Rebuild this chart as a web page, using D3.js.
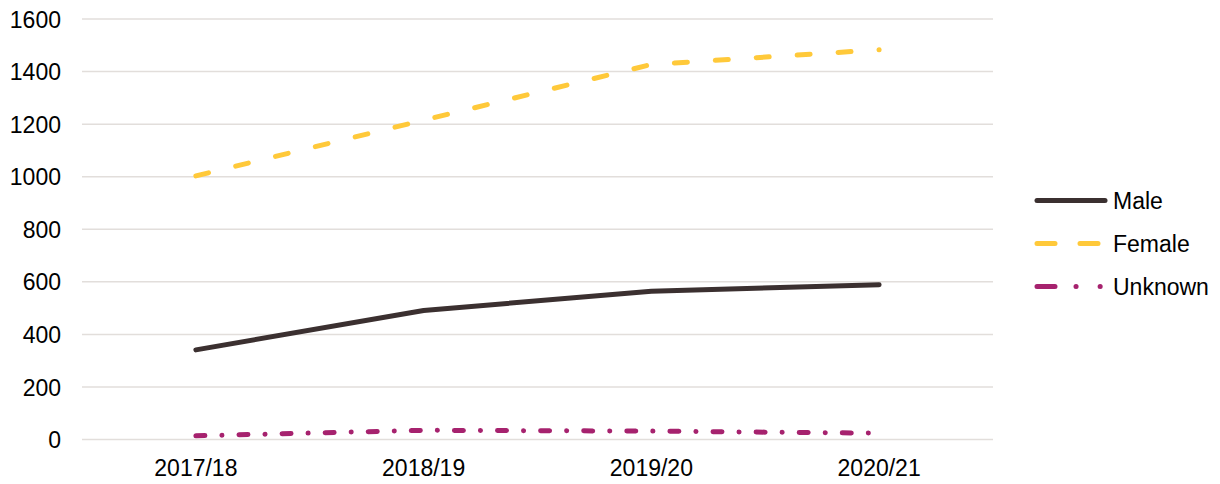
<!DOCTYPE html>
<html>
<head>
<meta charset="utf-8">
<script src="https://cdn.jsdelivr.net/npm/d3@7"></script>
<style>
  body { margin: 0; background: #fff; }
  #chart { width: 1220px; height: 484px; }
  text { font-family: Arial, "Liberation Sans", sans-serif; fill: #000; }
</style>
</head>
<body>
<div id="chart"></div>
<script>
// データ
const categories = ['2017/18', '2018/19', '2019/20', '2020/21'];
const maleValues = [341, 491, 564, 589];
const femaleValues = [1003, 1215, 1427, 1483];
const unknownValues = [14, 35, 32, 24];
const yTicks = [0, 200, 400, 600, 800, 1000, 1200, 1400, 1600];

const seriesList = [
  { name: 'Male', values: maleValues, color: '#3b3030', dash: null, legendDash: null },
  { name: 'Female', values: femaleValues, color: '#ffc93a', dash: '13 28', legendDash: '18 25' },
  { name: 'Unknown', values: unknownValues, color: '#a6226e', dash: '9 17 0.1 17', legendDash: '18 21 0.1 24 0.1 20' }
];

const width = 1220, height = 484;
const plot = { left: 82, right: 993, top: 19, bottom: 439.5 };
const fontSize = '23px';

const svg = d3.select('#chart').append('svg')
  .attr('width', width)
  .attr('height', height);

const x = d3.scaleBand()
  .domain(categories)
  .range([plot.left, plot.right]);

const y = d3.scaleLinear()
  .domain([0, 1600])
  .range([plot.bottom, plot.top]);

// グリッド線
svg.append('g')
  .selectAll('line')
  .data(yTicks)
  .enter().append('line')
  .attr('x1', plot.left)
  .attr('x2', plot.right)
  .attr('y1', d => y(d))
  .attr('y2', d => y(d))
  .attr('stroke', '#e2dedb')
  .attr('stroke-width', 1.5);

// Y軸
const yAxis = svg.append('g')
  .attr('transform', `translate(${plot.left}, 0)`)
  .call(d3.axisLeft(y).tickValues(yTicks).tickFormat(d3.format('d')).tickSize(0).tickPadding(21));
yAxis.select('.domain').remove();
yAxis.selectAll('text')
  .style('font-size', fontSize)
  .attr('dy', '0.35em');

// X軸
const xAxis = svg.append('g')
  .attr('transform', `translate(0, ${plot.bottom})`)
  .call(d3.axisBottom(x).tickSize(0).tickPadding(20));
xAxis.select('.domain').remove();
xAxis.selectAll('text')
  .style('font-size', fontSize);

// 折れ線
const line = d3.line()
  .x((d, i) => x(categories[i]) + x.bandwidth() / 2)
  .y(d => y(d));

seriesList.forEach(s => {
  svg.append('path')
    .datum(s.values)
    .attr('d', line)
    .attr('fill', 'none')
    .attr('stroke', s.color)
    .attr('stroke-width', 5)
    .attr('stroke-linecap', 'round')
    .attr('stroke-linejoin', 'round')
    .attr('stroke-dasharray', s.dash);
});

// 凡例
const legend = svg.append('g');
seriesList.forEach((s, i) => {
  const ly = 200.5 + i * 43;
  legend.append('line')
    .attr('x1', 1037)
    .attr('x2', 1105)
    .attr('y1', ly)
    .attr('y2', ly)
    .attr('stroke', s.color)
    .attr('stroke-width', 5)
    .attr('stroke-linecap', 'round')
    .attr('stroke-dasharray', s.legendDash);
  legend.append('text')
    .attr('x', 1113)
    .attr('y', ly)
    .attr('dy', '0.35em')
    .style('font-size', fontSize)
    .text(s.name);
});
</script>
</body>
</html>
